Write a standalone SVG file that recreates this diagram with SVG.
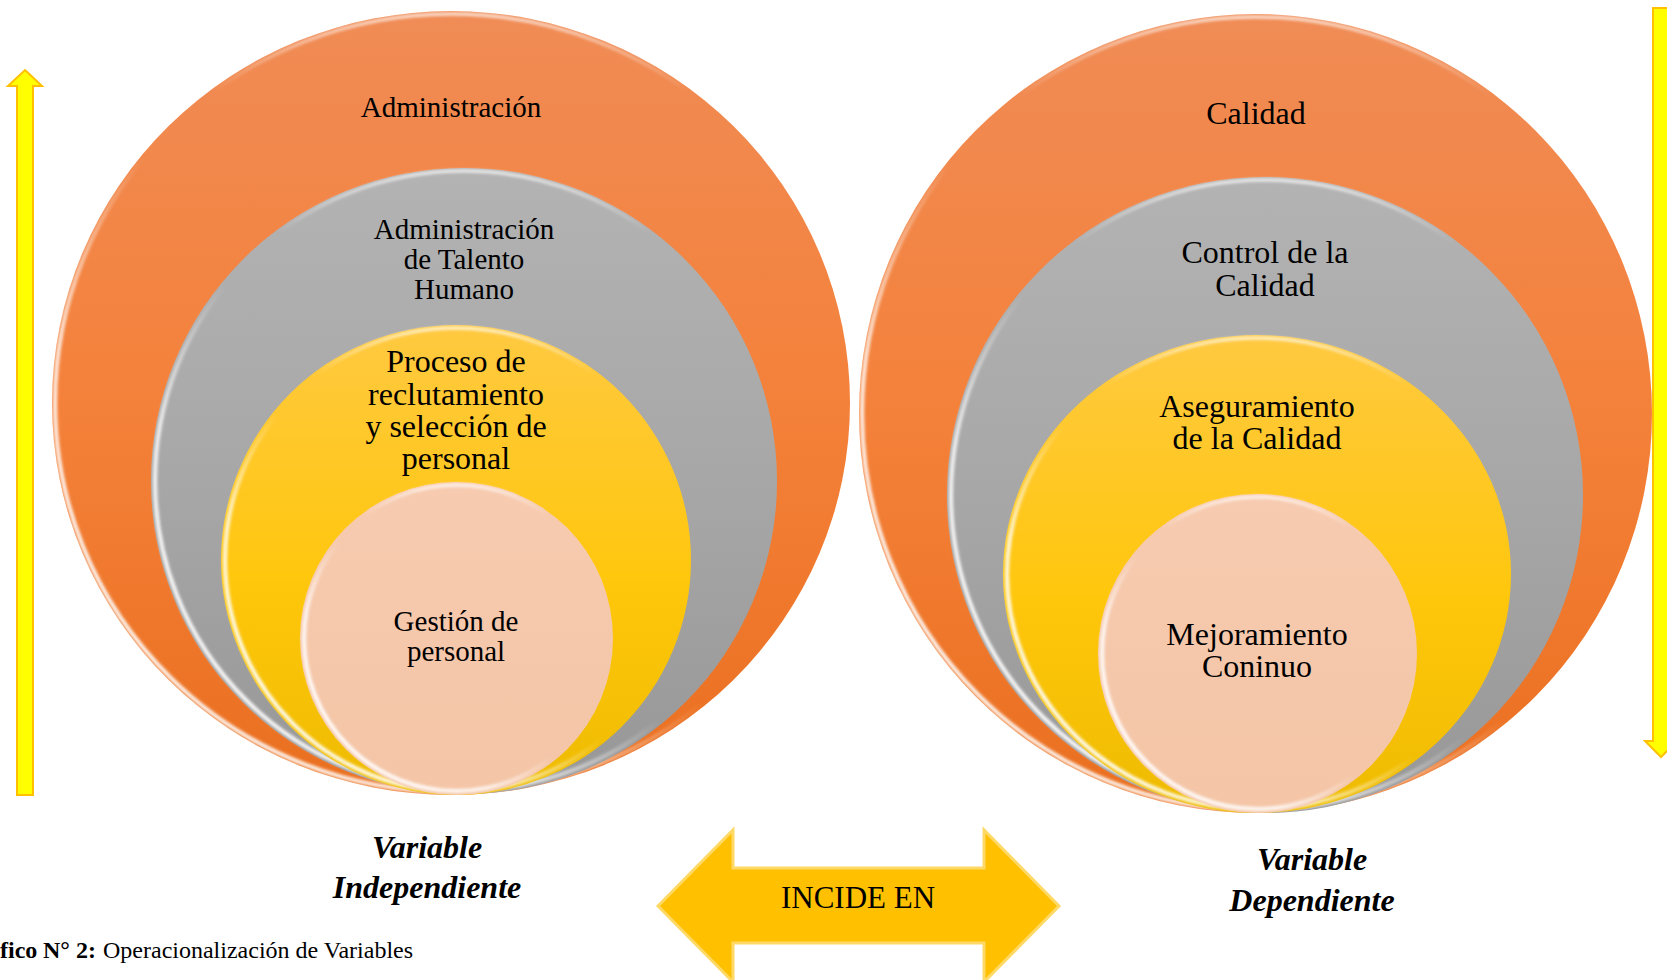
<svg xmlns="http://www.w3.org/2000/svg" width="1667" height="980" viewBox="0 0 1667 980">
<defs>
  <linearGradient id="gOrange" x1="0" y1="0" x2="0" y2="1">
    <stop offset="0" stop-color="#F08C56"/>
    <stop offset="0.5" stop-color="#F4813A"/>
    <stop offset="1" stop-color="#EA6F1F"/>
  </linearGradient>
  <linearGradient id="gGray" x1="0" y1="0" x2="0" y2="1">
    <stop offset="0" stop-color="#B3B3B3"/>
    <stop offset="0.5" stop-color="#A7A7A7"/>
    <stop offset="1" stop-color="#979797"/>
  </linearGradient>
  <linearGradient id="gYellow" x1="0" y1="0" x2="0" y2="1">
    <stop offset="0" stop-color="#FFC941"/>
    <stop offset="0.55" stop-color="#FFC70C"/>
    <stop offset="1" stop-color="#EEBB00"/>
  </linearGradient>
  <linearGradient id="gPink" x1="0" y1="0" x2="0" y2="1">
    <stop offset="0" stop-color="#F7CBB0"/>
    <stop offset="1" stop-color="#F4C5A6"/>
  </linearGradient>
  <linearGradient id="rimLL" x1="0.85" y1="0.15" x2="0.15" y2="0.85">
    <stop offset="0" stop-color="#FFFFFF" stop-opacity="0"/>
    <stop offset="0.55" stop-color="#FFFFFF" stop-opacity="0"/>
    <stop offset="0.8" stop-color="#FFFFFF" stop-opacity="0.85"/>
    <stop offset="1" stop-color="#FFFFFF" stop-opacity="0.95"/>
  </linearGradient>
  <linearGradient id="rimTop" x1="0" y1="0" x2="0" y2="1">
    <stop offset="0" stop-color="#FFFFFF" stop-opacity="0.8"/>
    <stop offset="0.05" stop-color="#FFFFFF" stop-opacity="0.4"/>
    <stop offset="0.1" stop-color="#FFFFFF" stop-opacity="0"/>
  </linearGradient>
  <filter id="blur" x="-5%" y="-5%" width="110%" height="110%">
    <feGaussianBlur stdDeviation="1.5"/>
  </filter>
  <style>
    .orange { fill:url(#gOrange); }
    .gray { fill:url(#gGray); }
    .yellow { fill:url(#gYellow); }
    .pink { fill:url(#gPink); }
    .rimT { fill:none; stroke:url(#rimTop); stroke-width:3; filter:url(#blur); }
    .rimL { fill:none; stroke:url(#rimLL); stroke-width:4; filter:url(#blur); }
    .t { font-family:"Liberation Serif","Times New Roman",serif; fill:#000; text-anchor:middle; }
    .t29 { font-size:29px; }
    .t32 { font-size:32px; }
    .var { font-family:"Liberation Serif","Times New Roman",serif; font-size:32px; font-weight:bold; font-style:italic; fill:#000; text-anchor:middle; }
    .varrow { fill:#FFFF00; stroke:#FFC000; stroke-width:2; }
    .darrow { fill:#FFC000; stroke:#FFD966; stroke-width:3; }
    .cap { font-family:"Liberation Serif","Times New Roman",serif; font-size:24px; fill:#000; }
  </style>
</defs>
<rect width="1667" height="980" fill="#FFFFFF"/>

<g id="connectors">
  <polygon id="arrow-up" class="varrow" points="25,70 42,86 33,86 33,795 17,795 17,86 8,86"/>
  <polygon id="arrow-down" class="varrow" points="1653,8 1670,8 1670,741 1677,741 1661,757 1645,741 1653,741"/>
</g>

<g id="left-target">
  <g id="node-administracion">
    <ellipse class="orange" cx="451" cy="403" rx="399" ry="392"/>
    <ellipse class="rimT" cx="451" cy="403" rx="396" ry="389"/>
    <ellipse class="rimL" cx="451" cy="403" rx="396" ry="389"/>
    <text class="t t29" x="451" y="117">Administración</text>
  </g>
  <g id="node-talento-humano">
    <circle class="gray" cx="464" cy="481" r="313"/>
    <circle class="rimT" cx="464" cy="481" r="310"/>
    <circle class="rimL" cx="464" cy="481" r="309"/>
    <text class="t t29" x="464" y="239">Administración</text>
    <text class="t t29" x="464" y="269">de Talento</text>
    <text class="t t29" x="464" y="299">Humano</text>
  </g>
  <g id="node-reclutamiento">
    <circle class="yellow" cx="456" cy="560" r="235"/>
    <circle class="rimT" cx="456" cy="560" r="232"/>
    <circle class="rimL" cx="456" cy="560" r="231"/>
    <text class="t t32" x="456" y="372">Proceso de</text>
    <text class="t t32" x="456" y="404.5">reclutamiento</text>
    <text class="t t32" x="456" y="437">y selección de</text>
    <text class="t t32" x="456" y="469">personal</text>
  </g>
  <g id="node-gestion">
    <circle class="pink" cx="456.5" cy="638.5" r="156.5"/>
    <circle class="rimT" cx="456.5" cy="638.5" r="153.5"/>
    <circle class="rimL" cx="456.5" cy="638.5" r="152.5"/>
    <text class="t t29" x="456" y="631">Gestión de</text>
    <text class="t t29" x="456" y="661">personal</text>
  </g>
</g>

<g id="right-target">
  <g id="node-calidad">
    <ellipse class="orange" cx="1255.5" cy="413.5" rx="396.5" ry="399.5"/>
    <ellipse class="rimT" cx="1255.5" cy="413.5" rx="393.5" ry="396.5"/>
    <ellipse class="rimL" cx="1255.5" cy="413.5" rx="393.5" ry="396.5"/>
    <text class="t t32" x="1256" y="124">Calidad</text>
  </g>
  <g id="node-control">
    <circle class="gray" cx="1265" cy="495" r="318"/>
    <circle class="rimT" cx="1265" cy="495" r="315"/>
    <circle class="rimL" cx="1265" cy="495" r="314"/>
    <text class="t t32" x="1265" y="263">Control de la</text>
    <text class="t t32" x="1265" y="296">Calidad</text>
  </g>
  <g id="node-aseguramiento">
    <ellipse class="yellow" cx="1257" cy="574" rx="254" ry="239"/>
    <ellipse class="rimT" cx="1257" cy="574" rx="251" ry="236"/>
    <ellipse class="rimL" cx="1257" cy="574" rx="250" ry="235"/>
    <text class="t t32" x="1257" y="417">Aseguramiento</text>
    <text class="t t32" x="1257" y="449">de la Calidad</text>
  </g>
  <g id="node-mejoramiento">
    <circle class="pink" cx="1257.5" cy="653.5" r="159.5"/>
    <circle class="rimT" cx="1257.5" cy="653.5" r="156.5"/>
    <circle class="rimL" cx="1257.5" cy="653.5" r="155.5"/>
    <text class="t t32" x="1257" y="645">Mejoramiento</text>
    <text class="t t32" x="1257" y="677">Coninuo</text>
  </g>
</g>

<g id="node-incide">
  <polygon class="darrow" points="658,906 733,830 733,868 984,868 984,830 1059,906 984,982 984,943 733,943 733,982"/>
  <text class="t" style="font-size:31px" x="858" y="908">INCIDE EN</text>
</g>

<g id="label-independiente">
  <text class="var" x="427" y="858">Variable</text>
  <text class="var" x="427" y="898">Independiente</text>
</g>
<g id="label-dependiente">
  <text class="var" x="1312" y="870">Variable</text>
  <text class="var" x="1312" y="911">Dependiente</text>
</g>

<g id="caption">
  <text class="cap" x="0" y="958" font-weight="bold">fico</text>
  <text class="cap" x="43" y="958" font-weight="bold">N° 2:</text>
  <text class="cap" x="103" y="958">Operacionalización de Variables</text>
</g>
</svg>
